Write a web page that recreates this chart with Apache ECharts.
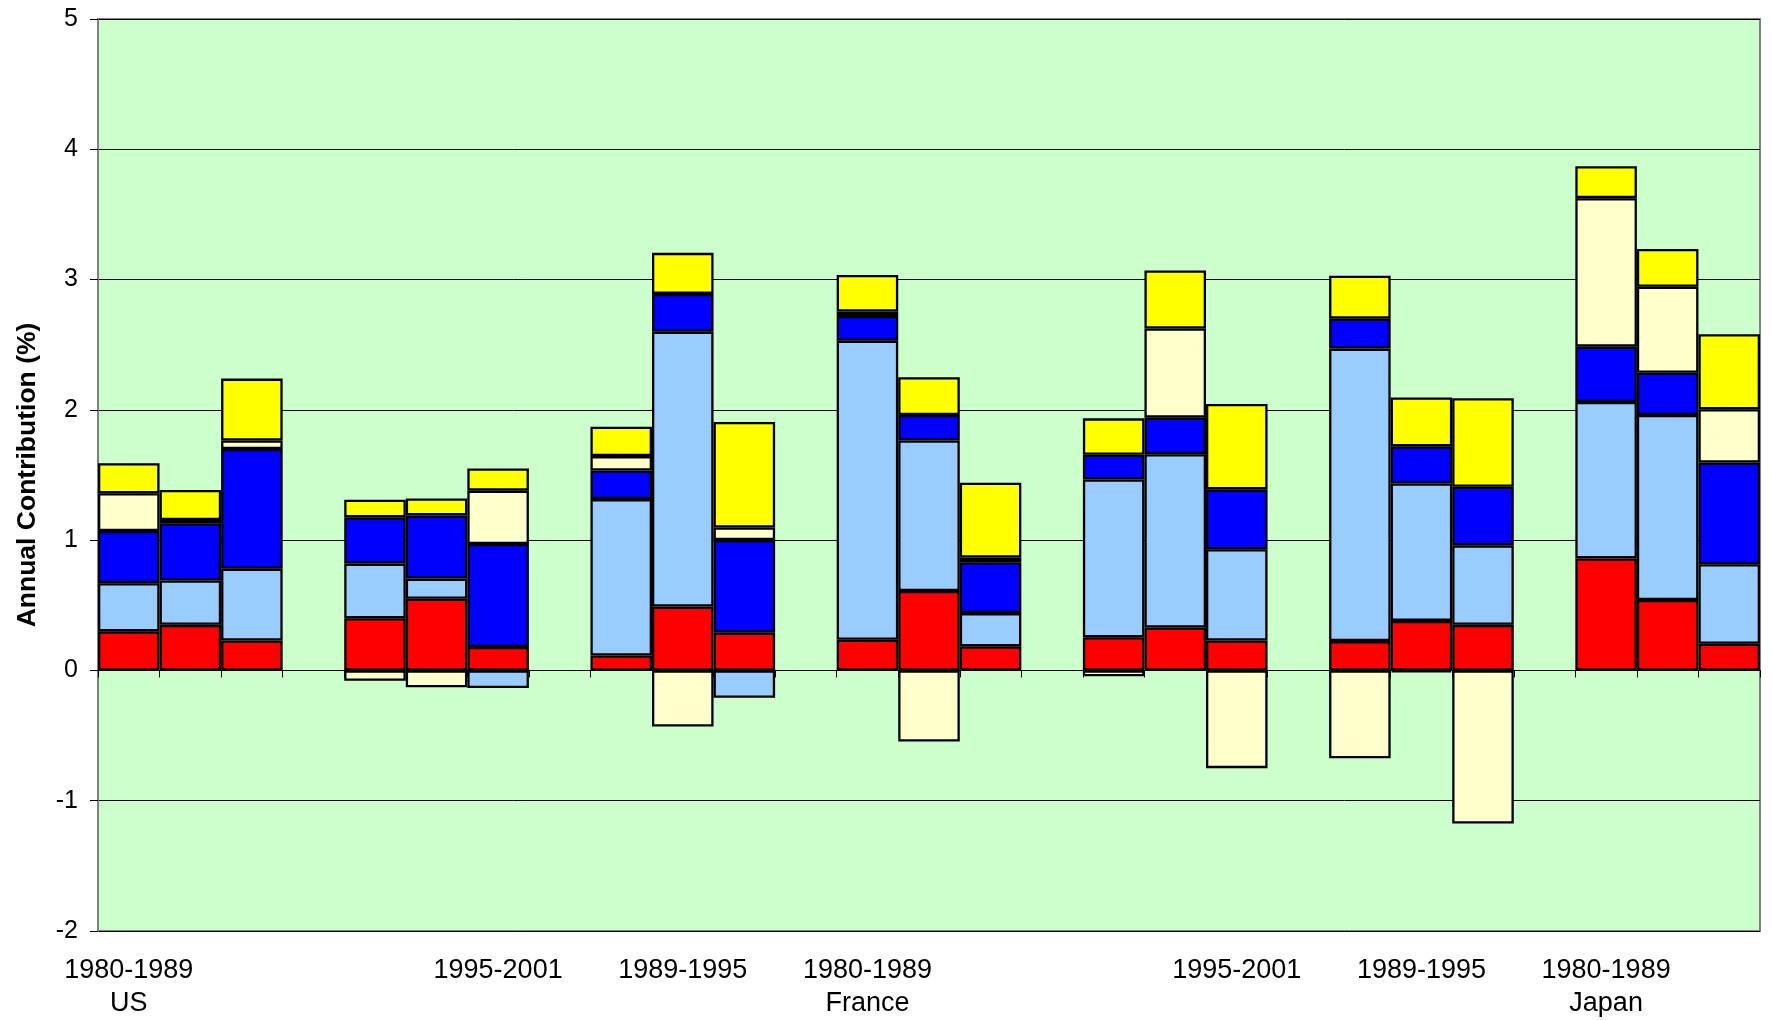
<!DOCTYPE html>
<html>
<head>
<meta charset="utf-8">
<script src="https://cdn.jsdelivr.net/npm/echarts@6/dist/echarts.min.js"></script>
<style>
  html, body { margin: 0; padding: 0; background: #ffffff; }
  #chart { width: 1772px; height: 1020px; }
</style>
</head>
<body>
<div id="chart"></div>
<script>
// Category slots (blank slots separate groups)
const categories = [
  '1980-1989','1989-1995','1995-2001','',
  '1980-1989','1989-1995','1995-2001','',
  '1980-1989','1989-1995','1995-2001','',
  '1980-1989','1989-1995','1995-2001','',
  '1980-1989','1989-1995','1995-2001','',
  '1980-1989','1989-1995','1995-2001','',
  '1980-1989','1989-1995','1995-2001'
];
// Second-line labels as shown in the reference
const countries = [
  'US','','','','','','','','','','','',
  'France','','','','','','','','','','','',
  'Japan','',''
];
const yTicks = [-2, -1, 0, 1, 2, 3, 4, 5];

// Stacked contributions (bottom to top)
const redVals = [0.30,0.35,0.23,'-', 0.40,0.55,0.18,'-', 0.115,0.49,0.29,'-', 0.235,0.61,0.185,'-', 0.255,0.33,0.23,'-', 0.225,0.38,0.35,'-', 0.86,0.54,0.205];
const lightBlueVals = [0.37,0.34,0.55,'-', 0.42,0.155,-0.135,'-', 1.20,2.11,-0.21,'-', 2.295,1.155,0.255,'-', 1.21,1.33,0.70,'-', 2.245,1.055,0.61,'-', 1.20,1.42,0.61];
const blueVals = [0.40,0.44,0.92,'-', 0.355,0.485,0.79,'-', 0.22,0.29,0.71,'-', 0.19,0.195,0.39,'-', 0.19,0.28,0.46,'-', 0.23,0.285,0.45,'-', 0.425,0.325,0.78];
const lightYellowVals = [0.29,0.025,0.065,'-', -0.08,-0.13,0.41,'-', 0.11,-0.43,0.097,'-', 0.035,-0.545,0.036,'-', -0.045,0.685,-0.75,'-', -0.675,-0.015,-1.175,'-', 1.14,0.66,0.41];
const yellowVals = [0.23,0.23,0.475,'-', 0.135,0.13,0.17,'-', 0.225,0.315,0.81,'-', 0.28,0.29,0.575,'-', 0.28,0.445,0.655,'-', 0.33,0.375,0.68,'-', 0.245,0.29,0.575];

const seriesDefs = [
  { name: 'Series 1', data: redVals, color: '#FF0000' },
  { name: 'Series 2', data: lightBlueVals, color: '#99CCFF' },
  { name: 'Series 3', data: blueVals, color: '#0000FF' },
  { name: 'Series 4', data: lightYellowVals, color: '#FFFFCC' },
  { name: 'Series 5', data: yellowVals, color: '#FFFF00' }
];

const FONT = "'Liberation Sans', Arial, sans-serif";
const chart = echarts.init(document.getElementById('chart'), null, { renderer: 'canvas' });

chart.setOption({
  animation: false,
  backgroundColor: '#ffffff',
  textStyle: { fontFamily: FONT },
  grid: {
    left: 98, right: 12, top: 19, bottom: 89,
    show: true,
    backgroundColor: '#CCFFCC',
    borderColor: '#808080',
    borderWidth: 2,
    containLabel: false
  },
  xAxis: [
    {
      type: 'category',
      data: categories,
      position: 'bottom',
      axisLine: { show: true, onZero: true, lineStyle: { color: '#000000', width: 1 } },
      axisTick: { show: true, interval: 0, length: 7, lineStyle: { color: '#000000', width: 1 } },
      axisLabel: { show: false },
      splitLine: { show: false }
    },
    {
      type: 'category',
      data: categories,
      position: 'bottom',
      offset: 0,
      axisLine: { show: false, onZero: false },
      axisTick: { show: false },
      axisLabel: {
        show: true,
        interval: 2,
        margin: 23,
        fontSize: 27,
        lineHeight: 33,
        color: '#000000',
        fontFamily: FONT,
        formatter: function (value, index) {
          const c = countries[index];
          return c ? value + '\n' + c : value;
        }
      },
      splitLine: { show: false }
    }
  ],
  yAxis: {
    type: 'value',
    min: yTicks[0],
    max: yTicks[yTicks.length - 1],
    interval: 1,
    name: 'Annual Contribution (%)',
    nameLocation: 'middle',
    nameGap: 57,
    nameRotate: 90,
    nameTextStyle: { fontSize: 26.5, fontWeight: 'bold', color: '#000000', fontFamily: FONT },
    axisLine: { show: true, lineStyle: { color: '#808080', width: 2 } },
    axisTick: { show: true, length: 8, lineStyle: { color: '#000000', width: 1 } },
    axisLabel: { fontSize: 25, margin: 20, color: '#000000', fontFamily: FONT },
    splitLine: { show: true, lineStyle: { color: '#000000', width: 1 } }
  },
  series: seriesDefs.map(s => ({
    name: s.name,
    type: 'bar',
    stack: 'total',
    xAxisIndex: 0,
    data: s.data,
    barCategoryGap: '0%',
    barWidth: '100%',
    itemStyle: { color: s.color, borderColor: '#000000', borderWidth: 2.3 }
  }))
});
</script>
</body>
</html>
